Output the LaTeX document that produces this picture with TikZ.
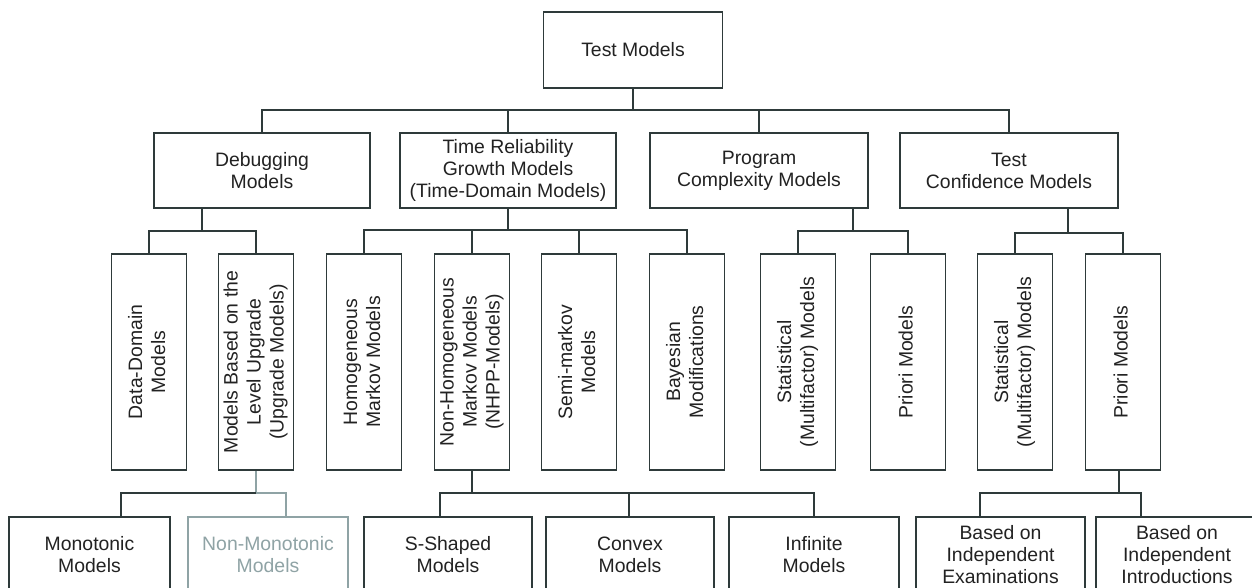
\documentclass[tikz,border=0pt]{standalone}
\usepackage{fontspec}
\setmainfont{Liberation Sans}
\definecolor{linec}{HTML}{2E3A3A}
\definecolor{txtc}{HTML}{222222}
\definecolor{grayc}{HTML}{8FA3A5}
\newcommand{\fsz}{\fontsize{19.4}{22}\selectfont}
\newcommand{\vfsz}{\fontsize{19.4}{23}\selectfont}
\newcommand{\vt}[1]{\rotatebox{90}{\vfsz\begin{tabular}{@{}c@{}}#1\end{tabular}}}
\begin{document}
\begin{tikzpicture}[x=1pt,y=-1pt,
  box/.style={draw=linec, line width=1.9pt, text=txtc, font=\fsz, align=center, inner sep=0pt, fill=white},
  lvtwo/.style={box, minimum width=216pt, minimum height=75pt},
  lvthree/.style={box, minimum width=75pt, minimum height=216pt},
  lvfour/.style={box, minimum height=76pt},
  conn/.style={draw=linec, line width=1.9pt},
  gconn/.style={draw=grayc, line width=1.9pt}]
\useasboundingbox (0,0) rectangle (1252,588);
\clip (0,0) rectangle (1252,588);
\fill[white] (0,0) rectangle (1252,588);
% top
\node[box, minimum width=179pt, minimum height=76pt] (top) at (633,50) {Test Models};
% level 2
\node[lvtwo] (deb) at (262,170.5) {Debugging\\Models};
\node[lvtwo] (trg) at (508,170.5) {Time Reliability\\Growth Models\\(Time-Domain Models)};
\node[lvtwo, minimum width=218pt] (pcm) at (759,170.5) {Program\\Complexity Models};
\node[lvtwo, minimum width=218pt] (tcm) at (1009,170.5) {Test\\Confidence Models};
% level 3
\node[lvthree] (dd) at (149,362) {\vt{Data-Domain\\Models}};
\node[lvthree] (mb) at (256,362) {\vt{Models Based on the\\Level Upgrade\\(Upgrade Models)}};
\node[lvthree] (hom) at (364,362) {\vt{Homogeneous\\Markov Models}};
\node[lvthree] (nh) at (472,362) {\vt{Non-Homogeneous\\Markov Models\\(NHPP-Models)}};
\node[lvthree] (semi) at (579,362) {\vt{Semi-markov\\Models}};
\node[lvthree] (bay) at (687,362) {\vt{Bayesian\\Modifications}};
\node[lvthree] (statA) at (798,362) {\vt{Statistical\\(Multifactor) Models}};
\node[lvthree] (priA) at (908,362) {\vt{Priori Models}};
\node[lvthree] (statB) at (1015,362) {\vt{Statistical\\(Multifactor) Models}};
\node[lvthree] (priB) at (1123,362) {\vt{Priori Models}};
% level 4
\node[lvfour, minimum width=161pt] (mono) at (89.5,555) {Monotonic\\Models};
\node[lvfour, minimum width=160pt, draw=grayc, text=grayc] (nmono) at (268,555) {Non-Monotonic\\Models};
\node[lvfour, minimum width=168pt] (ssh) at (448,555) {S-Shaped\\Models};
\node[lvfour, minimum width=168pt] (cvx) at (630,555) {Convex\\Models};
\node[lvfour, minimum width=170pt] (inf) at (814,555) {Infinite\\Models};
\node[lvfour, minimum width=169pt] (exam) at (1000.5,555) {Based on\\Independent\\Examinations};
\node[lvfour, minimum width=162pt] (intro) at (1177,555) {Based on\\Independent\\Introductions};
% junctions
\coordinate (jtop) at (633,110);
\coordinate (jdeb) at (202,231);
\coordinate (jtrg) at (508,230);
\coordinate (jpcm) at (853,231);
\coordinate (jtcm) at (1068,233);
\coordinate (jmb) at (256,493);
\coordinate (jnh) at (472,493);
\coordinate (jpri) at (1119,493);
% connectors level 1-2
\draw[conn] (top.south) -- (jtop);
\draw[conn] (deb.north) |- (jtop) -| (tcm.north);
\draw[conn] (trg.north) -- (trg.north |- jtop);
\draw[conn] (pcm.north) -- (pcm.north |- jtop);
% level 2-3
\draw[conn] (jdeb |- deb.south) -- (jdeb);
\draw[conn] (dd.north) |- (jdeb) -| (mb.north);
\draw[conn] (trg.south) -- (jtrg);
\draw[conn] (hom.north) |- (jtrg) -| (bay.north);
\draw[conn] (nh.north) -- (nh.north |- jtrg);
\draw[conn] (semi.north) -- (semi.north |- jtrg);
\draw[conn] (jpcm |- pcm.south) -- (jpcm);
\draw[conn] (statA.north) |- (jpcm) -| (priA.north);
\draw[conn] (jtcm |- tcm.south) -- (jtcm);
\draw[conn] (statB.north) |- (jtcm) -| (priB.north);
% level 3-4
\draw[gconn] (mb.south) -- (jmb) -| ([xshift=18pt]nmono.north);
\draw[conn] ([xshift=31.5pt]mono.north) |- (jmb);
\draw[conn] (nh.south) -- (jnh);
\draw[conn] ([xshift=-8pt]ssh.north) |- (jnh) -| (inf.north);
\draw[conn] ([xshift=-1pt]cvx.north) -- ([xshift=-1pt]cvx.north |- jnh);
\draw[conn] (jpri |- priB.south) -- (jpri);
\draw[conn] ([xshift=-20.5pt]exam.north) |- (jpri) -| ([xshift=-36pt]intro.north);
\end{tikzpicture}
\end{document}
